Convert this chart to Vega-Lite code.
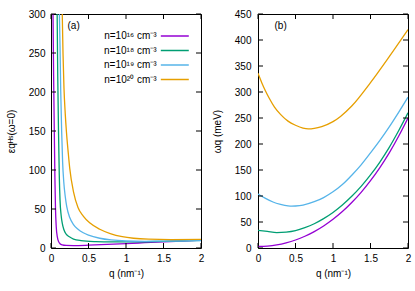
{
  "$schema": "https://vega.github.io/schema/vega-lite/v6.json",
  "padding": {"left": 5, "top": 8, "right": 5, "bottom": 5},
  "background": "white",
  "config": {
    "font": "Liberation Sans",
    "view": {"stroke": "black", "strokeWidth": 1},
    "axis": {
      "domain": false, "grid": false, "ticks": false, "tickSize": 0, "labelFlush": false, "labelOverlap": false,
      "labelFont": "Liberation Sans", "labelFontSize": 10, "labelColor": "black",
      "titleFont": "Liberation Sans", "titleFontSize": 10, "titleFontWeight": "normal", "titleColor": "black"
    },
    "legend": {"labelFont": "Liberation Sans", "labelFontSize": 10, "labelColor": "black"}
  },
  "datasets": {
    "tx": [{"q": 0}, {"q": 0.5}, {"q": 1}, {"q": 1.5}, {"q": 2}],
    "tya": [{"v": 0}, {"v": 50}, {"v": 100}, {"v": 150}, {"v": 200}, {"v": 250}, {"v": 300}],
    "tyb": [{"v": 0}, {"v": 50}, {"v": 100}, {"v": 150}, {"v": 200}, {"v": 250}, {"v": 300}, {"v": 350}, {"v": 400}, {"v": 450}],
    "a": [
      {"n": "n=10¹⁶ cm⁻³", "q": 0.027, "v": 300}, {"n": "n=10¹⁶ cm⁻³", "q": 0.035, "v": 220}, {"n": "n=10¹⁶ cm⁻³", "q": 0.044, "v": 150},
      {"n": "n=10¹⁶ cm⁻³", "q": 0.052, "v": 90}, {"n": "n=10¹⁶ cm⁻³", "q": 0.06, "v": 50}, {"n": "n=10¹⁶ cm⁻³", "q": 0.07, "v": 27},
      {"n": "n=10¹⁶ cm⁻³", "q": 0.085, "v": 14}, {"n": "n=10¹⁶ cm⁻³", "q": 0.1, "v": 8.5}, {"n": "n=10¹⁶ cm⁻³", "q": 0.12, "v": 5.5},
      {"n": "n=10¹⁶ cm⁻³", "q": 0.15, "v": 4}, {"n": "n=10¹⁶ cm⁻³", "q": 0.2, "v": 3.3}, {"n": "n=10¹⁶ cm⁻³", "q": 0.3, "v": 3.1},
      {"n": "n=10¹⁶ cm⁻³", "q": 0.5, "v": 3.6}, {"n": "n=10¹⁶ cm⁻³", "q": 0.75, "v": 4.6}, {"n": "n=10¹⁶ cm⁻³", "q": 1, "v": 5.6},
      {"n": "n=10¹⁶ cm⁻³", "q": 1.25, "v": 6.8}, {"n": "n=10¹⁶ cm⁻³", "q": 1.5, "v": 8}, {"n": "n=10¹⁶ cm⁻³", "q": 1.75, "v": 9}, {"n": "n=10¹⁶ cm⁻³", "q": 2, "v": 10},
      {"n": "n=10¹⁸ cm⁻³", "q": 0.082, "v": 300}, {"n": "n=10¹⁸ cm⁻³", "q": 0.09, "v": 220}, {"n": "n=10¹⁸ cm⁻³", "q": 0.1, "v": 150},
      {"n": "n=10¹⁸ cm⁻³", "q": 0.11, "v": 95}, {"n": "n=10¹⁸ cm⁻³", "q": 0.12, "v": 62}, {"n": "n=10¹⁸ cm⁻³", "q": 0.135, "v": 42},
      {"n": "n=10¹⁸ cm⁻³", "q": 0.15, "v": 32}, {"n": "n=10¹⁸ cm⁻³", "q": 0.17, "v": 24}, {"n": "n=10¹⁸ cm⁻³", "q": 0.2, "v": 18},
      {"n": "n=10¹⁸ cm⁻³", "q": 0.25, "v": 14}, {"n": "n=10¹⁸ cm⁻³", "q": 0.3, "v": 11.5}, {"n": "n=10¹⁸ cm⁻³", "q": 0.4, "v": 9.5},
      {"n": "n=10¹⁸ cm⁻³", "q": 0.6, "v": 8.2}, {"n": "n=10¹⁸ cm⁻³", "q": 0.8, "v": 7.8}, {"n": "n=10¹⁸ cm⁻³", "q": 1, "v": 7.8},
      {"n": "n=10¹⁸ cm⁻³", "q": 1.5, "v": 8.6}, {"n": "n=10¹⁸ cm⁻³", "q": 2, "v": 9.8},
      {"n": "n=10¹⁹ cm⁻³", "q": 0.112, "v": 300}, {"n": "n=10¹⁹ cm⁻³", "q": 0.12, "v": 260}, {"n": "n=10¹⁹ cm⁻³", "q": 0.13, "v": 200},
      {"n": "n=10¹⁹ cm⁻³", "q": 0.142, "v": 150}, {"n": "n=10¹⁹ cm⁻³", "q": 0.155, "v": 110}, {"n": "n=10¹⁹ cm⁻³", "q": 0.17, "v": 85},
      {"n": "n=10¹⁹ cm⁻³", "q": 0.19, "v": 66}, {"n": "n=10¹⁹ cm⁻³", "q": 0.21, "v": 53}, {"n": "n=10¹⁹ cm⁻³", "q": 0.25, "v": 39},
      {"n": "n=10¹⁹ cm⁻³", "q": 0.3, "v": 30}, {"n": "n=10¹⁹ cm⁻³", "q": 0.36, "v": 24}, {"n": "n=10¹⁹ cm⁻³", "q": 0.43, "v": 19.5},
      {"n": "n=10¹⁹ cm⁻³", "q": 0.5, "v": 16.5}, {"n": "n=10¹⁹ cm⁻³", "q": 0.65, "v": 12.5}, {"n": "n=10¹⁹ cm⁻³", "q": 0.8, "v": 10.3},
      {"n": "n=10¹⁹ cm⁻³", "q": 1, "v": 9}, {"n": "n=10¹⁹ cm⁻³", "q": 1.25, "v": 8.6}, {"n": "n=10¹⁹ cm⁻³", "q": 1.5, "v": 8.7}, {"n": "n=10¹⁹ cm⁻³", "q": 2, "v": 9.6},
      {"n": "n=10²⁰ cm⁻³", "q": 0.15, "v": 300}, {"n": "n=10²⁰ cm⁻³", "q": 0.16, "v": 250}, {"n": "n=10²⁰ cm⁻³", "q": 0.173, "v": 205},
      {"n": "n=10²⁰ cm⁻³", "q": 0.19, "v": 172}, {"n": "n=10²⁰ cm⁻³", "q": 0.205, "v": 150}, {"n": "n=10²⁰ cm⁻³", "q": 0.23, "v": 122},
      {"n": "n=10²⁰ cm⁻³", "q": 0.25, "v": 102}, {"n": "n=10²⁰ cm⁻³", "q": 0.3, "v": 72}, {"n": "n=10²⁰ cm⁻³", "q": 0.36, "v": 52},
      {"n": "n=10²⁰ cm⁻³", "q": 0.43, "v": 41}, {"n": "n=10²⁰ cm⁻³", "q": 0.52, "v": 32}, {"n": "n=10²⁰ cm⁻³", "q": 0.65, "v": 24},
      {"n": "n=10²⁰ cm⁻³", "q": 0.79, "v": 18.5}, {"n": "n=10²⁰ cm⁻³", "q": 0.95, "v": 14.5}, {"n": "n=10²⁰ cm⁻³", "q": 1.1, "v": 12.5},
      {"n": "n=10²⁰ cm⁻³", "q": 1.3, "v": 11.3}, {"n": "n=10²⁰ cm⁻³", "q": 1.6, "v": 10.8}, {"n": "n=10²⁰ cm⁻³", "q": 2, "v": 11}
    ],
    "b": [
      {"n": "n=10¹⁶ cm⁻³", "q": 0, "v": 3}, {"n": "n=10¹⁶ cm⁻³", "q": 0.125, "v": 3.8}, {"n": "n=10¹⁶ cm⁻³", "q": 0.25, "v": 6.1},
      {"n": "n=10¹⁶ cm⁻³", "q": 0.375, "v": 10}, {"n": "n=10¹⁶ cm⁻³", "q": 0.5, "v": 15.4}, {"n": "n=10¹⁶ cm⁻³", "q": 0.625, "v": 22.6},
      {"n": "n=10¹⁶ cm⁻³", "q": 0.75, "v": 31.6}, {"n": "n=10¹⁶ cm⁻³", "q": 0.875, "v": 42.4}, {"n": "n=10¹⁶ cm⁻³", "q": 1, "v": 55.2},
      {"n": "n=10¹⁶ cm⁻³", "q": 1.125, "v": 70}, {"n": "n=10¹⁶ cm⁻³", "q": 1.25, "v": 87.4}, {"n": "n=10¹⁶ cm⁻³", "q": 1.375, "v": 107},
      {"n": "n=10¹⁶ cm⁻³", "q": 1.5, "v": 129.5}, {"n": "n=10¹⁶ cm⁻³", "q": 1.625, "v": 154.7}, {"n": "n=10¹⁶ cm⁻³", "q": 1.75, "v": 183},
      {"n": "n=10¹⁶ cm⁻³", "q": 1.875, "v": 215}, {"n": "n=10¹⁶ cm⁻³", "q": 2, "v": 250},
      {"n": "n=10¹⁸ cm⁻³", "q": 0, "v": 34}, {"n": "n=10¹⁸ cm⁻³", "q": 0.125, "v": 31.8}, {"n": "n=10¹⁸ cm⁻³", "q": 0.25, "v": 29.6},
      {"n": "n=10¹⁸ cm⁻³", "q": 0.375, "v": 30.5}, {"n": "n=10¹⁸ cm⁻³", "q": 0.5, "v": 33.4}, {"n": "n=10¹⁸ cm⁻³", "q": 0.625, "v": 39.1},
      {"n": "n=10¹⁸ cm⁻³", "q": 0.75, "v": 46.6}, {"n": "n=10¹⁸ cm⁻³", "q": 0.875, "v": 56.4}, {"n": "n=10¹⁸ cm⁻³", "q": 1, "v": 68.2},
      {"n": "n=10¹⁸ cm⁻³", "q": 1.125, "v": 82.6}, {"n": "n=10¹⁸ cm⁻³", "q": 1.25, "v": 99.4}, {"n": "n=10¹⁸ cm⁻³", "q": 1.375, "v": 118.5},
      {"n": "n=10¹⁸ cm⁻³", "q": 1.5, "v": 140.5}, {"n": "n=10¹⁸ cm⁻³", "q": 1.625, "v": 165.3}, {"n": "n=10¹⁸ cm⁻³", "q": 1.75, "v": 193.5},
      {"n": "n=10¹⁸ cm⁻³", "q": 1.875, "v": 225.4}, {"n": "n=10¹⁸ cm⁻³", "q": 2, "v": 260},
      {"n": "n=10¹⁹ cm⁻³", "q": 0, "v": 104}, {"n": "n=10¹⁹ cm⁻³", "q": 0.1, "v": 95.5}, {"n": "n=10¹⁹ cm⁻³", "q": 0.2, "v": 88.5},
      {"n": "n=10¹⁹ cm⁻³", "q": 0.3, "v": 84}, {"n": "n=10¹⁹ cm⁻³", "q": 0.4, "v": 81}, {"n": "n=10¹⁹ cm⁻³", "q": 0.45, "v": 80.5},
      {"n": "n=10¹⁹ cm⁻³", "q": 0.5, "v": 80.8}, {"n": "n=10¹⁹ cm⁻³", "q": 0.6, "v": 82.5}, {"n": "n=10¹⁹ cm⁻³", "q": 0.75, "v": 89},
      {"n": "n=10¹⁹ cm⁻³", "q": 0.875, "v": 97}, {"n": "n=10¹⁹ cm⁻³", "q": 1, "v": 108}, {"n": "n=10¹⁹ cm⁻³", "q": 1.125, "v": 122},
      {"n": "n=10¹⁹ cm⁻³", "q": 1.25, "v": 140}, {"n": "n=10¹⁹ cm⁻³", "q": 1.375, "v": 160}, {"n": "n=10¹⁹ cm⁻³", "q": 1.5, "v": 183},
      {"n": "n=10¹⁹ cm⁻³", "q": 1.625, "v": 207}, {"n": "n=10¹⁹ cm⁻³", "q": 1.75, "v": 233}, {"n": "n=10¹⁹ cm⁻³", "q": 1.875, "v": 261},
      {"n": "n=10¹⁹ cm⁻³", "q": 2, "v": 290},
      {"n": "n=10²⁰ cm⁻³", "q": 0, "v": 336}, {"n": "n=10²⁰ cm⁻³", "q": 0.05, "v": 318}, {"n": "n=10²⁰ cm⁻³", "q": 0.1, "v": 302},
      {"n": "n=10²⁰ cm⁻³", "q": 0.15, "v": 288}, {"n": "n=10²⁰ cm⁻³", "q": 0.22, "v": 271}, {"n": "n=10²⁰ cm⁻³", "q": 0.3, "v": 257},
      {"n": "n=10²⁰ cm⁻³", "q": 0.4, "v": 244}, {"n": "n=10²⁰ cm⁻³", "q": 0.5, "v": 236}, {"n": "n=10²⁰ cm⁻³", "q": 0.6, "v": 230.5},
      {"n": "n=10²⁰ cm⁻³", "q": 0.67, "v": 229}, {"n": "n=10²⁰ cm⁻³", "q": 0.75, "v": 230}, {"n": "n=10²⁰ cm⁻³", "q": 0.85, "v": 233.5},
      {"n": "n=10²⁰ cm⁻³", "q": 1, "v": 243}, {"n": "n=10²⁰ cm⁻³", "q": 1.1, "v": 253}, {"n": "n=10²⁰ cm⁻³", "q": 1.25, "v": 273},
      {"n": "n=10²⁰ cm⁻³", "q": 1.5, "v": 318}, {"n": "n=10²⁰ cm⁻³", "q": 1.75, "v": 368}, {"n": "n=10²⁰ cm⁻³", "q": 2, "v": 420}
    ]
  },
  "spacing": 6,
  "hconcat": [
    {
      "width": 150, "height": 234,
      "data": {"name": "a"},
      "layer": [
        {
          "mark": {"type": "line", "clip": true, "strokeWidth": 1.3, "interpolate": "monotone"},
          "encoding": {
            "x": {"field": "q", "type": "quantitative", "scale": {"domain": [0, 2], "nice": false},
                  "axis": {"values": [0, 0.5, 1, 1.5, 2], "format": "~g", "labelPadding": 5, "title": "q (nm⁻¹)", "titlePadding": 5}},
            "y": {"field": "v", "type": "quantitative", "scale": {"domain": [0, 300], "nice": false},
                  "axis": {"values": [0, 50, 100, 150, 200, 250, 300], "format": "d", "labelPadding": 6, "title": "εqᴴˢ(ω=0)", "titlePadding": 12}},
            "color": {"field": "n", "type": "nominal",
                      "scale": {"domain": ["n=10¹⁶ cm⁻³", "n=10¹⁸ cm⁻³", "n=10¹⁹ cm⁻³", "n=10²⁰ cm⁻³"], "range": ["#9400d3", "#009e73", "#56b4e9", "#e69f00"]},
                      "legend": {"title": null, "orient": "none", "legendX": 118.3, "legendY": 16.5, "symbolType": "M-3,0H3", "symbolSize": 87, "symbolStrokeWidth": 1.5,
                                 "labelAlign": "right", "labelOffset": -23.7, "rowPadding": 3.5, "padding": 0}}
          }
        },
        {"data": {"name": "tx"}, "mark": {"type": "rule", "color": "black", "y2Offset": -5},
         "encoding": {"x": {"field": "q", "type": "quantitative", "axis": {"values": [0, 0.5, 1, 1.5, 2], "format": "~g", "labelPadding": 5, "title": "q (nm⁻¹)", "titlePadding": 5}},
                      "y": {"datum": 0, "axis": {"values": [0, 50, 100, 150, 200, 250, 300], "format": "d", "labelPadding": 6, "title": "εqᴴˢ(ω=0)", "titlePadding": 12}}, "y2": {"datum": 0}}},
        {"data": {"name": "tx"}, "mark": {"type": "rule", "color": "black", "y2Offset": 5},
         "encoding": {"x": {"field": "q", "type": "quantitative", "axis": {"values": [0, 0.5, 1, 1.5, 2], "format": "~g", "labelPadding": 5, "title": "q (nm⁻¹)", "titlePadding": 5}},
                      "y": {"datum": 300, "axis": {"values": [0, 50, 100, 150, 200, 250, 300], "format": "d", "labelPadding": 6, "title": "εqᴴˢ(ω=0)", "titlePadding": 12}}, "y2": {"datum": 300}}},
        {"data": {"name": "tya"}, "mark": {"type": "rule", "color": "black", "x2Offset": 5},
         "encoding": {"y": {"field": "v", "type": "quantitative", "axis": {"values": [0, 50, 100, 150, 200, 250, 300], "format": "d", "labelPadding": 6, "title": "εqᴴˢ(ω=0)", "titlePadding": 12}},
                      "x": {"datum": 0, "axis": {"values": [0, 0.5, 1, 1.5, 2], "format": "~g", "labelPadding": 5, "title": "q (nm⁻¹)", "titlePadding": 5}}, "x2": {"datum": 0}}},
        {"data": {"name": "tya"}, "mark": {"type": "rule", "color": "black", "x2Offset": -5},
         "encoding": {"y": {"field": "v", "type": "quantitative", "axis": {"values": [0, 50, 100, 150, 200, 250, 300], "format": "d", "labelPadding": 6, "title": "εqᴴˢ(ω=0)", "titlePadding": 12}},
                      "x": {"datum": 2, "axis": {"values": [0, 0.5, 1, 1.5, 2], "format": "~g", "labelPadding": 5, "title": "q (nm⁻¹)", "titlePadding": 5}}, "x2": {"datum": 2}}},
        {
          "data": {"values": [{}]},
          "mark": {"type": "text", "align": "left", "baseline": "middle", "fontSize": 10, "font": "Liberation Sans"},
          "encoding": {"x": {"datum": 0.22, "axis": {"values": [0, 0.5, 1, 1.5, 2], "format": "~g", "labelPadding": 5, "title": "q (nm⁻¹)", "titlePadding": 5}},
                       "y": {"datum": 284, "axis": {"values": [0, 50, 100, 150, 200, 250, 300], "format": "d", "labelPadding": 6, "title": "εqᴴˢ(ω=0)", "titlePadding": 12}},
                       "text": {"value": "(a)"}}
        }
      ]
    },
    {
      "width": 150, "height": 234,
      "data": {"name": "b"},
      "layer": [
        {
          "mark": {"type": "line", "clip": true, "strokeWidth": 1.3, "interpolate": "monotone"},
          "encoding": {
            "x": {"field": "q", "type": "quantitative", "scale": {"domain": [0, 2], "nice": false},
                  "axis": {"values": [0, 0.5, 1, 1.5, 2], "format": "~g", "labelPadding": 5, "title": "q (nm⁻¹)", "titlePadding": 5}},
            "y": {"field": "v", "type": "quantitative", "scale": {"domain": [0, 450], "nice": false},
                  "axis": {"values": [0, 50, 100, 150, 200, 250, 300, 350, 400, 450], "format": "d", "labelPadding": 7, "title": "ωq (meV)", "titlePadding": 12}},
            "color": {"field": "n", "type": "nominal",
                      "scale": {"domain": ["n=10¹⁶ cm⁻³", "n=10¹⁸ cm⁻³", "n=10¹⁹ cm⁻³", "n=10²⁰ cm⁻³"], "range": ["#9400d3", "#009e73", "#56b4e9", "#e69f00"]},
                      "legend": null}
          }
        },
        {"data": {"name": "tx"}, "mark": {"type": "rule", "color": "black", "y2Offset": -5},
         "encoding": {"x": {"field": "q", "type": "quantitative", "axis": {"values": [0, 0.5, 1, 1.5, 2], "format": "~g", "labelPadding": 5, "title": "q (nm⁻¹)", "titlePadding": 5}},
                      "y": {"datum": 0, "axis": {"values": [0, 50, 100, 150, 200, 250, 300, 350, 400, 450], "format": "d", "labelPadding": 7, "title": "ωq (meV)", "titlePadding": 12}}, "y2": {"datum": 0}}},
        {"data": {"name": "tx"}, "mark": {"type": "rule", "color": "black", "y2Offset": 5},
         "encoding": {"x": {"field": "q", "type": "quantitative", "axis": {"values": [0, 0.5, 1, 1.5, 2], "format": "~g", "labelPadding": 5, "title": "q (nm⁻¹)", "titlePadding": 5}},
                      "y": {"datum": 450, "axis": {"values": [0, 50, 100, 150, 200, 250, 300, 350, 400, 450], "format": "d", "labelPadding": 7, "title": "ωq (meV)", "titlePadding": 12}}, "y2": {"datum": 450}}},
        {"data": {"name": "tyb"}, "mark": {"type": "rule", "color": "black", "x2Offset": 5},
         "encoding": {"y": {"field": "v", "type": "quantitative", "axis": {"values": [0, 50, 100, 150, 200, 250, 300, 350, 400, 450], "format": "d", "labelPadding": 7, "title": "ωq (meV)", "titlePadding": 12}},
                      "x": {"datum": 0, "axis": {"values": [0, 0.5, 1, 1.5, 2], "format": "~g", "labelPadding": 5, "title": "q (nm⁻¹)", "titlePadding": 5}}, "x2": {"datum": 0}}},
        {"data": {"name": "tyb"}, "mark": {"type": "rule", "color": "black", "x2Offset": -5},
         "encoding": {"y": {"field": "v", "type": "quantitative", "axis": {"values": [0, 50, 100, 150, 200, 250, 300, 350, 400, 450], "format": "d", "labelPadding": 7, "title": "ωq (meV)", "titlePadding": 12}},
                      "x": {"datum": 2, "axis": {"values": [0, 0.5, 1, 1.5, 2], "format": "~g", "labelPadding": 5, "title": "q (nm⁻¹)", "titlePadding": 5}}, "x2": {"datum": 2}}},
        {
          "data": {"values": [{}]},
          "mark": {"type": "text", "align": "left", "baseline": "middle", "fontSize": 10, "font": "Liberation Sans"},
          "encoding": {"x": {"datum": 0.22, "axis": {"values": [0, 0.5, 1, 1.5, 2], "format": "~g", "labelPadding": 5, "title": "q (nm⁻¹)", "titlePadding": 5}},
                       "y": {"datum": 426, "axis": {"values": [0, 50, 100, 150, 200, 250, 300, 350, 400, 450], "format": "d", "labelPadding": 7, "title": "ωq (meV)", "titlePadding": 12}},
                       "text": {"value": "(b)"}}
        }
      ]
    }
  ]
}
